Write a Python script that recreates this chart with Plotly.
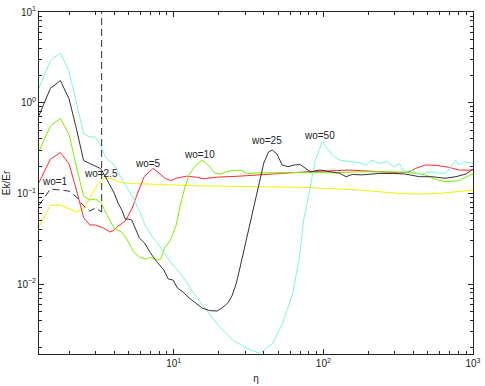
import math
import plotly.graph_objects as go

# wo=1 (black dashed)
eta_wo1 = [1.26, 1.5, 1.75, 2.0, 2.25, 2.5, 2.75, 3.0, 3.3]
ek_wo1 = [0.074, 0.112, 0.109, 0.106, 0.091, 0.0726, 0.064, 0.069, 0.0624]
# vertical dashed marker
mark_eta = [3.3, 3.3]
mark_ek = [0.0624, 10]

# wo=2.5 (yellow)
eta_wo2 = [1.26, 1.5, 1.75, 2.0, 2.25, 2.5, 2.75, 3.0, 3.25, 3.5, 3.75, 4.25, 5.0, 8, 10, 15,
           45, 70, 100, 174, 321, 437, 593, 870, 1000]
ek_wo2 = [0.043, 0.0736, 0.0745, 0.0685, 0.0624, 0.0673, 0.089, 0.115, 0.137, 0.148, 0.146,
          0.134, 0.129, 0.127, 0.124, 0.121, 0.119, 0.117, 0.114, 0.109, 0.100, 0.0985, 0.100,
          0.107, 0.109]

# wo=5 (red)
eta_wo5 = [1.26, 1.5, 1.75, 2.0, 2.25, 2.5, 2.75, 3.0, 3.4, 3.75, 4.0, 4.25, 4.75, 5.25, 5.75,
           6.35, 7.28, 8.0, 8.9, 9.7, 10.4, 12.2, 14.2, 15.7, 19.3, 27.5, 45.9, 76.7, 149, 236,
           321, 374, 415, 484, 564, 692, 807, 1000]
ek_wo5 = [0.132, 0.239, 0.282, 0.211, 0.106, 0.0542, 0.0449, 0.0449, 0.0415, 0.0375, 0.0395,
          0.0437, 0.0496, 0.0673, 0.101, 0.153, 0.189, 0.168, 0.144, 0.139, 0.147, 0.155, 0.151,
          0.145, 0.151, 0.155, 0.164, 0.173, 0.181, 0.173, 0.169, 0.173, 0.189, 0.206, 0.204,
          0.194, 0.181, 0.181]

# wo=10 (green)
eta_wo10 = [1.26, 1.5, 1.75, 2.0, 2.25, 2.5, 2.75, 3.0, 3.25, 3.5, 4.0, 4.5, 5.0, 5.4, 5.9, 6.5,
            7.0, 7.6, 8.2, 8.7, 9.5, 10.4, 11.0, 11.9, 12.7, 13.9, 15.5, 17.0, 18.8, 20.5, 22.5,
            25.0, 28.0, 31.0, 36.0, 46.0, 60, 80, 120, 170, 260, 370, 480, 560, 650, 800, 900, 1000]
ek_wo10 = [0.293, 0.553, 0.67, 0.446, 0.191, 0.0936, 0.0846, 0.0866, 0.0804, 0.0624, 0.0415,
           0.0375, 0.0291, 0.0226, 0.0199, 0.0189, 0.0199, 0.0184, 0.0189, 0.025, 0.0306, 0.0449,
           0.0708, 0.118, 0.16, 0.2, 0.233, 0.206, 0.168, 0.163, 0.174, 0.179, 0.181, 0.166,
           0.168, 0.169, 0.169, 0.17, 0.169, 0.173, 0.173, 0.171, 0.16, 0.143, 0.135, 0.138,
           0.152, 0.164]

# wo=25 (black solid)
eta_wo25 = [1.26, 1.5, 1.75, 2.0, 2.25, 2.5, 2.75, 3.0, 3.25, 3.5, 3.75, 4.0, 4.25, 4.5, 4.75,
            5.0, 5.25, 5.5, 5.9, 6.4, 7.0, 7.7, 8.2, 8.6, 9.2, 9.9, 10.6, 11.5, 12.7, 14.0, 15.5,
            17.3, 19.5, 21.0, 23, 24.5, 26.0, 27.5, 29.5, 32.0, 34.5, 37.0, 40.0, 43.0, 45.5, 49.0,
            53.0, 58.0, 64.0, 70.0, 76.0, 82, 95, 110, 128, 142, 156, 180, 200, 236, 290, 350,
            437, 530, 650, 770, 900, 1000]
ek_wo25 = [0.722, 1.44, 1.75, 1.1, 0.5, 0.23, 0.214, 0.2, 0.188, 0.152, 0.121, 0.101, 0.0784,
           0.0656, 0.0522, 0.0522, 0.0509, 0.0426, 0.0322, 0.0284, 0.022, 0.0177, 0.0156, 0.0143,
           0.0114, 0.0111, 0.00906, 0.00824, 0.00703, 0.0062, 0.00545, 0.00512, 0.00505, 0.00545,
           0.0062, 0.0074, 0.00977, 0.0143, 0.0238, 0.0449, 0.0784, 0.130, 0.216, 0.286, 0.301,
           0.272, 0.206, 0.197, 0.206, 0.208, 0.188, 0.173, 0.181, 0.173, 0.167, 0.153, 0.162,
           0.16, 0.162, 0.166, 0.166, 0.164, 0.153, 0.153, 0.147, 0.153, 0.164, 0.185]

# wo=50 (cyan)
eta_wo50 = [1.26, 1.5, 1.75, 2.0, 2.5, 2.75, 3.0, 3.25, 3.5, 4.0, 4.55, 5.31, 5.87, 6.5, 7.21,
            8.4, 9.3, 11.5, 13.4, 16.5, 20.3, 24.8, 30.5, 37.4, 45.9, 53.5, 62.4, 69.2, 73.9,
            80.7, 88.5, 98.4, 115, 128, 149, 174, 193, 212, 236, 268, 297, 321, 347, 394, 437,
            484, 535, 593, 658, 710, 767, 807, 871, 1000]
ek_wo50 = [1.45, 2.92, 3.53, 2.22, 0.455, 0.419, 0.419, 0.342, 0.25, 0.206, 0.141, 0.092,
           0.0656, 0.043, 0.0333, 0.0238, 0.0184, 0.0121, 0.00824, 0.00518, 0.00339, 0.00242,
           0.00198, 0.00173, 0.00223, 0.0037, 0.00792, 0.0199, 0.0509, 0.109, 0.233, 0.372,
           0.265, 0.233, 0.224, 0.218, 0.206, 0.233, 0.215, 0.224, 0.195, 0.215, 0.173, 0.181,
           0.16, 0.169, 0.173, 0.167, 0.167, 0.197, 0.233, 0.206, 0.222, 0.216]

# curve labels
label_text = ['wo=1', 'wo=2.5', 'wo=5', 'wo=10', 'wo=25', 'wo=50']
label_eta = [1.6, 3.25, 6.76, 14.8, 41.8, 94.8]
label_ek = [0.135, 0.167, 0.215, 0.27, 0.381, 0.43]

x_tickvals = [10, 100, 1000]
x_ticktext = ['10<sup>1</sup>', '10<sup>2</sup>', '10<sup>3</sup>']
y_tickvals = [0.01, 0.1, 1, 10]
y_ticktext = ['10<sup>−2</sup>', '10<sup>−1</sup>', '10<sup>0</sup>', '10<sup>1</sup>']

minor_vals = [m * 10 ** e for e in range(-3, 4) for m in range(2, 10)]

fig = go.Figure()

series = [
    (eta_wo2, ek_wo2, '#f2f200', None),
    (eta_wo5, ek_wo5, '#ff2a2a', None),
    (eta_wo10, ek_wo10, '#7cf000', None),
    (eta_wo50, ek_wo50, '#7ff5d8', None),
    (eta_wo25, ek_wo25, '#333333', None),
    (eta_wo1, ek_wo1, '#333333', '7px,4px'),
    (mark_eta, mark_ek, '#333333', '7px,4px'),
]
for xs, ys, col, dash in series:
    fig.add_trace(go.Scatter(
        x=xs, y=ys, mode='lines',
        line=dict(color=col, width=1, dash=dash),
        showlegend=False, hoverinfo='skip'
    ))

# annotations on log axes take log10 positions
for txt, xe, ye in zip(label_text, label_eta, label_ek):
    fig.add_annotation(x=math.log10(xe), y=math.log10(ye), xref='x', yref='y',
                       text=txt, showarrow=False,
                       font=dict(size=10, color='#222222'))

axis_common = dict(
    type='log', showgrid=False, zeroline=False, automargin=False,
    showline=True, linecolor='#222222', linewidth=1, mirror='allticks',
    ticks='inside', ticklen=5, tickcolor='#222222', tickwidth=1,
    tickmode='array',
    minor=dict(ticks='inside', ticklen=3, tickcolor='#222222', tickvals=minor_vals),
    tickfont=dict(size=10, color='#222222'),
)

fig.update_xaxes(range=[0.1, 3], tickvals=x_tickvals, ticktext=x_ticktext,
                 title=dict(text='η', font=dict(size=10), standoff=6), **axis_common)
fig.update_yaxes(range=[-2.77, 1], tickvals=y_tickvals, ticktext=y_ticktext,
                 title=dict(text='Ek/Er', font=dict(size=10), standoff=4), **axis_common)

fig.update_layout(
    width=485, height=386,
    margin=dict(l=39, r=12, t=12, b=32, autoexpand=False),
    plot_bgcolor='white', paper_bgcolor='white',
    font=dict(family='Liberation Sans, Arial, sans-serif', size=10, color='#222222'),
)

# drop the default page margin so the figure sits at the window's corner
fig.write_html("out.html", config={'displayModeBar': False},
               post_script="document.body.style.margin='0px';")
